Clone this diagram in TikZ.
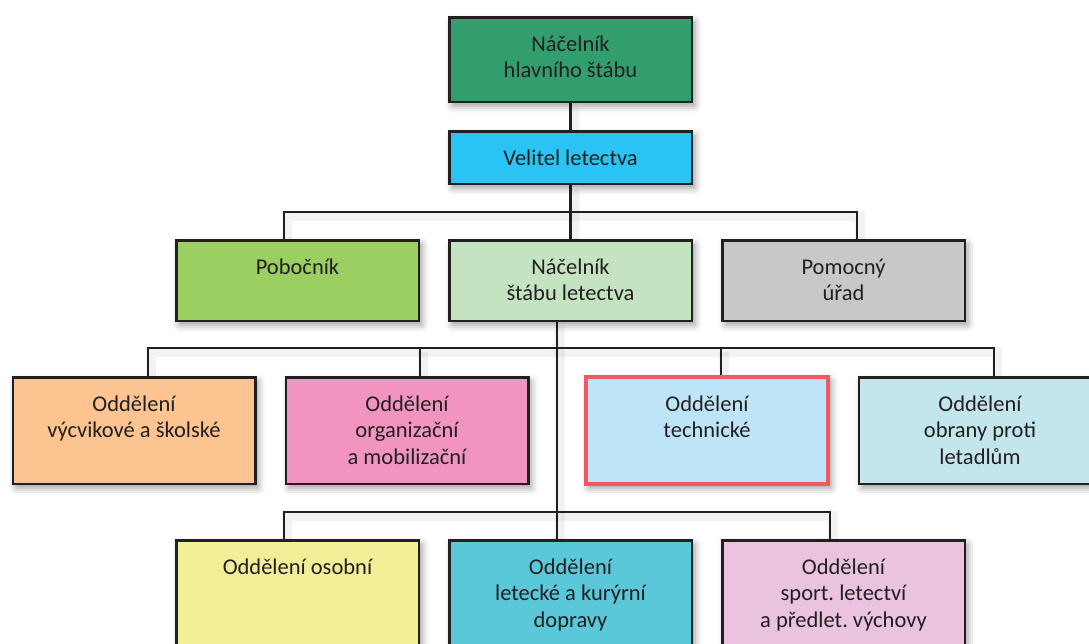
\documentclass[tikz,border=0pt]{standalone}
\usepackage{fontspec}
\setmainfont{Carlito}
\usetikzlibrary{shadows.blur,backgrounds}
\frenchspacing

\definecolor{ink}{RGB}{35,31,32}
\definecolor{cTop}{RGB}{50,158,110}
\definecolor{cVel}{RGB}{41,196,243}
\definecolor{cPob}{RGB}{155,207,97}
\definecolor{cNac}{RGB}{196,228,193}
\definecolor{cPom}{RGB}{200,200,202}
\definecolor{cVyc}{RGB}{251,196,145}
\definecolor{cOrg}{RGB}{241,149,192}
\definecolor{cTec}{RGB}{190,229,247}
\definecolor{cTecLine}{RGB}{239,90,97}
\definecolor{cObr}{RGB}{195,229,236}
\definecolor{cOso}{RGB}{242,239,152}
\definecolor{cLet}{RGB}{90,200,216}
\definecolor{cSpo}{RGB}{234,195,222}

% text block hung from the top edge of a box
\newcommand\toplines[2]{\parbox[c][#1][t]{236pt}{\centering\rule{0pt}{34pt}#2}}

\tikzset{
  unit/.style={draw=ink, line width=2.5pt, inner sep=0pt, minimum width=242.5pt,
    text=ink, font=\fontsize{22.5}{26.5}\selectfont,
    blur shadow={shadow xshift=3pt, shadow yshift=-4pt, shadow blur radius=7pt, shadow opacity=40}},
  wire/.style={draw=ink, line width=2.5pt,
    preaction={draw=black, opacity=0.05, line width=10pt, transform canvas={shift={(3pt,-4pt)}}}},
}

\begin{document}
\begin{tikzpicture}[x=1pt, y=-1pt]
  \useasboundingbox (0,0) rectangle (1089,643);
  \clip (0,0) rectangle (1089,643);

  % heights of the three horizontal buses
  \coordinate (bus2) at (0,212);
  \coordinate (bus3) at (0,348);
  \coordinate (bus4) at (0,512);

  % boxes
  \node[unit, fill=cTop, minimum height=84.5pt] (top) at (570.5,59.5)
    {\toplines{84.5pt}{Náčelník\\hlavního štábu}};
  \node[unit, fill=cVel, minimum height=52.5pt] (vel) at (570.5,157.5) {Velitel letectva};

  \node[unit, fill=cPob, minimum height=80.5pt] (pob) at (297.5,280.5)
    {\toplines{80.5pt}{Pobočník}};
  \node[unit, fill=cNac, minimum height=80.5pt] (nac) at (570.5,280.5)
    {\toplines{80.5pt}{Náčelník\\štábu letectva}};
  \node[unit, fill=cPom, minimum height=80.5pt] (pom) at (843.5,280.5)
    {\toplines{80.5pt}{Pomocný\\úřad}};

  \node[unit, fill=cVyc, minimum height=106.5pt] (vyc) at (134,430.5)
    {\toplines{106.5pt}{Oddělení\\výcvikové a školské}};
  \node[unit, fill=cOrg, minimum height=106.5pt] (org) at (407,430.5)
    {\toplines{106.5pt}{Oddělení\\organizační\\a mobilizační}};
  \node[unit, fill=cTec, draw=cTecLine, line width=4pt, minimum height=106.5pt] (tec) at (707,430.5)
    {\toplines{106.5pt}{Oddělení\\technické}};
  \node[unit, fill=cObr, minimum height=106.5pt] (obr) at (980,430.5)
    {\toplines{106.5pt}{Oddělení\\obrany proti\\letadlům}};

  \node[unit, fill=cOso, minimum height=106.5pt] (oso) at (297.5,593.5)
    {\toplines{106.5pt}{Oddělení osobní}};
  \node[unit, fill=cLet, minimum height=106.5pt] (let) at (570.5,593.5)
    {\toplines{106.5pt}{Oddělení\\letecké a kurýrní\\dopravy}};
  \node[unit, fill=cSpo, minimum height=106.5pt] (spo) at (843.5,593.5)
    {\toplines{106.5pt}{Oddělení\\sport. letectví\\a předlet. výchovy}};

  % connectors, kept behind the boxes
  \begin{scope}[on background layer]
  \draw[wire] (top.south) -- (vel.north);
  \draw[wire] (vel.south) -- (nac.north);
  \draw[wire] ([xshift=-13.5pt]pob.north) -- ([xshift=-13.5pt]pob.north |- bus2)
                -| ([xshift=13.5pt]pom.north);

  \draw[wire] ([xshift=-13.5pt]nac.south) -- ([xshift=-13.5pt]let.north);
  \draw[wire] ([xshift=14pt]vyc.north) -- ([xshift=14pt]vyc.north |- bus3)
                -| ([xshift=14pt]obr.north);
  \draw[wire] ([xshift=13pt]org.north) -- ([xshift=13pt]org.north |- bus3);
  \draw[wire] ([xshift=14pt]tec.north) -- ([xshift=14pt]tec.north |- bus3);

  \draw[wire] ([xshift=-13.5pt]oso.north) -- ([xshift=-13.5pt]oso.north |- bus4)
                -| ([xshift=-13.5pt]spo.north);
  \end{scope}
\end{tikzpicture}
\end{document}
